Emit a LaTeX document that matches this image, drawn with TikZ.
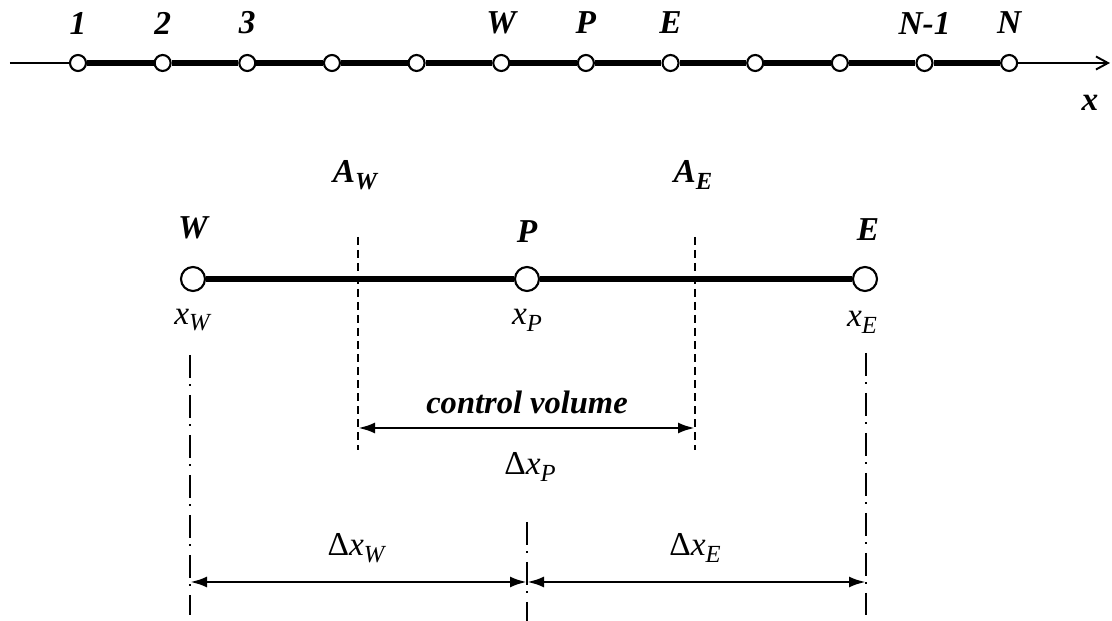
\documentclass[tikz,border=0pt]{standalone}
\usepackage{fontspec}
\setmainfont{Liberation Serif}
\usetikzlibrary{arrows.meta,positioning}
\newcommand{\lowsub}[1]{\raisebox{-0.45ex}{\fontsize{14}{14}\selectfont #1}}

\begin{document}
\begin{tikzpicture}[
  gridpt/.style={circle,draw,fill=white,line width=1.2pt,inner sep=0pt,minimum size=0.32cm},
  bigpt/.style={gridpt,minimum size=0.48cm},
  lbl/.style={font=\fontsize{19}{22}\selectfont\bfseries\itshape},
  cvlbl/.style={font=\fontsize{18.5}{21}\selectfont\bfseries\itshape},
  mlbl/.style={font=\fontsize{19}{22}\selectfont},
  face/.style={line width=1.5pt,dash pattern=on 0.16cm off 0.1cm},
  centre/.style={line width=1.4pt,dash pattern=on 0.46cm off 0.13cm on 0.04cm off 0.17cm},
  dim/.style={{Latex[length=0.34cm,width=0.22cm]}-{Latex[length=0.34cm,width=0.22cm]},line width=1.6pt},
  thickline/.style={line width=3.2pt}
]
\useasboundingbox (0,0) rectangle (22.24,-12.42);

\foreach \i in {1,...,12}
  \node[gridpt] (n\i) at ({1.56+1.693*(\i-1)},-1.26) {};
\coordinate (xstart) at (0.2,-1.26);
\coordinate (xend) at (22.2,-1.26);
\coordinate (toprow) at (0,-0.46);
\draw[line width=1.1pt] (xstart) -- (n1);
\draw[line width=1.1pt,-{Straight Barb[length=0.24cm,width=0.26cm]}] (n12) -- (xend);
\foreach \i [count=\j from 2] in {1,...,11}
  \draw[thickline] (n\i) -- (n\j);
\foreach \i/\t in {1/1,2/2,3/3,6/W,7/P,8/E,11/N-1,12/N}
  \node[lbl] (t\i) at (n\i |- toprow) {\t};
\node[lbl] (xaxis) at (21.8,-2.06) {x};

\node[bigpt] (W) at (3.86,-5.58) {};
\node[bigpt] (P) at (10.54,-5.58) {};
\node[bigpt] (E) at (17.3,-5.58) {};
\draw[thickline] (W) -- (P);
\draw[thickline] (P) -- (E);
\node[lbl] (lW) at (3.86,-4.56) {W};
\node[lbl] (lP) at (10.54,-4.64) {P};
\node[lbl] (lE) at (17.36,-4.6) {E};
\node[lbl] (AW) at (7.1,-3.5) {A\lowsub{W}};
\node[lbl] (AE) at (13.86,-3.5) {A\lowsub{E}};
\node[mlbl] (xW) at (3.86,-6.4) {\textit{x}\lowsub{\textit{W}}};
\node[mlbl] (xP) at (10.54,-6.4) {\textit{x}\lowsub{\textit{P}}};
\node[mlbl] (xE) at (17.24,-6.44) {\textit{x}\lowsub{\textit{E}}};

\coordinate (aw1) at (7.16,-4.74);
\coordinate (aw2) at (7.16,-9.0);
\coordinate (ae1) at (13.9,-4.74);
\coordinate (ae2) at (13.9,-9.0);
\draw[face] (aw1) -- (aw2);
\draw[face] (ae1) -- (ae2);
\coordinate (cvl) at (7.16,-8.56);
\coordinate (cvr) at (13.9,-8.56);
\draw[dim] (cvl) -- (cvr);
\node[cvlbl] (cv) at (10.54,-8.04) {control volume};
\node[mlbl] (dxP) at (10.6,-9.34) {Δ\textit{x}\lowsub{\textit{P}}};

\coordinate (cw1) at (3.8,-7.1);
\coordinate (cw2) at (3.8,-12.3);
\coordinate (ce1) at (17.32,-7.06);
\coordinate (ce2) at (17.32,-12.3);
\coordinate (cp1) at (10.54,-10.44);
\coordinate (cp2) at (10.54,-12.42);
\draw[centre] (cw1) -- (cw2);
\draw[centre] (ce1) -- (ce2);
\draw[centre] (cp1) -- (cp2);
\coordinate (bw) at (3.8,-11.64);
\coordinate (bp) at (10.54,-11.64);
\coordinate (be) at (17.32,-11.64);
\draw[dim] (bw) -- (bp);
\draw[dim] (bp) -- (be);
\node[mlbl] (dxW) at (7.14,-10.96) {Δ\textit{x}\lowsub{\textit{W}}};
\node[mlbl] (dxE) at (13.9,-10.96) {Δ\textit{x}\lowsub{\textit{E}}};
\end{tikzpicture}
\end{document}
